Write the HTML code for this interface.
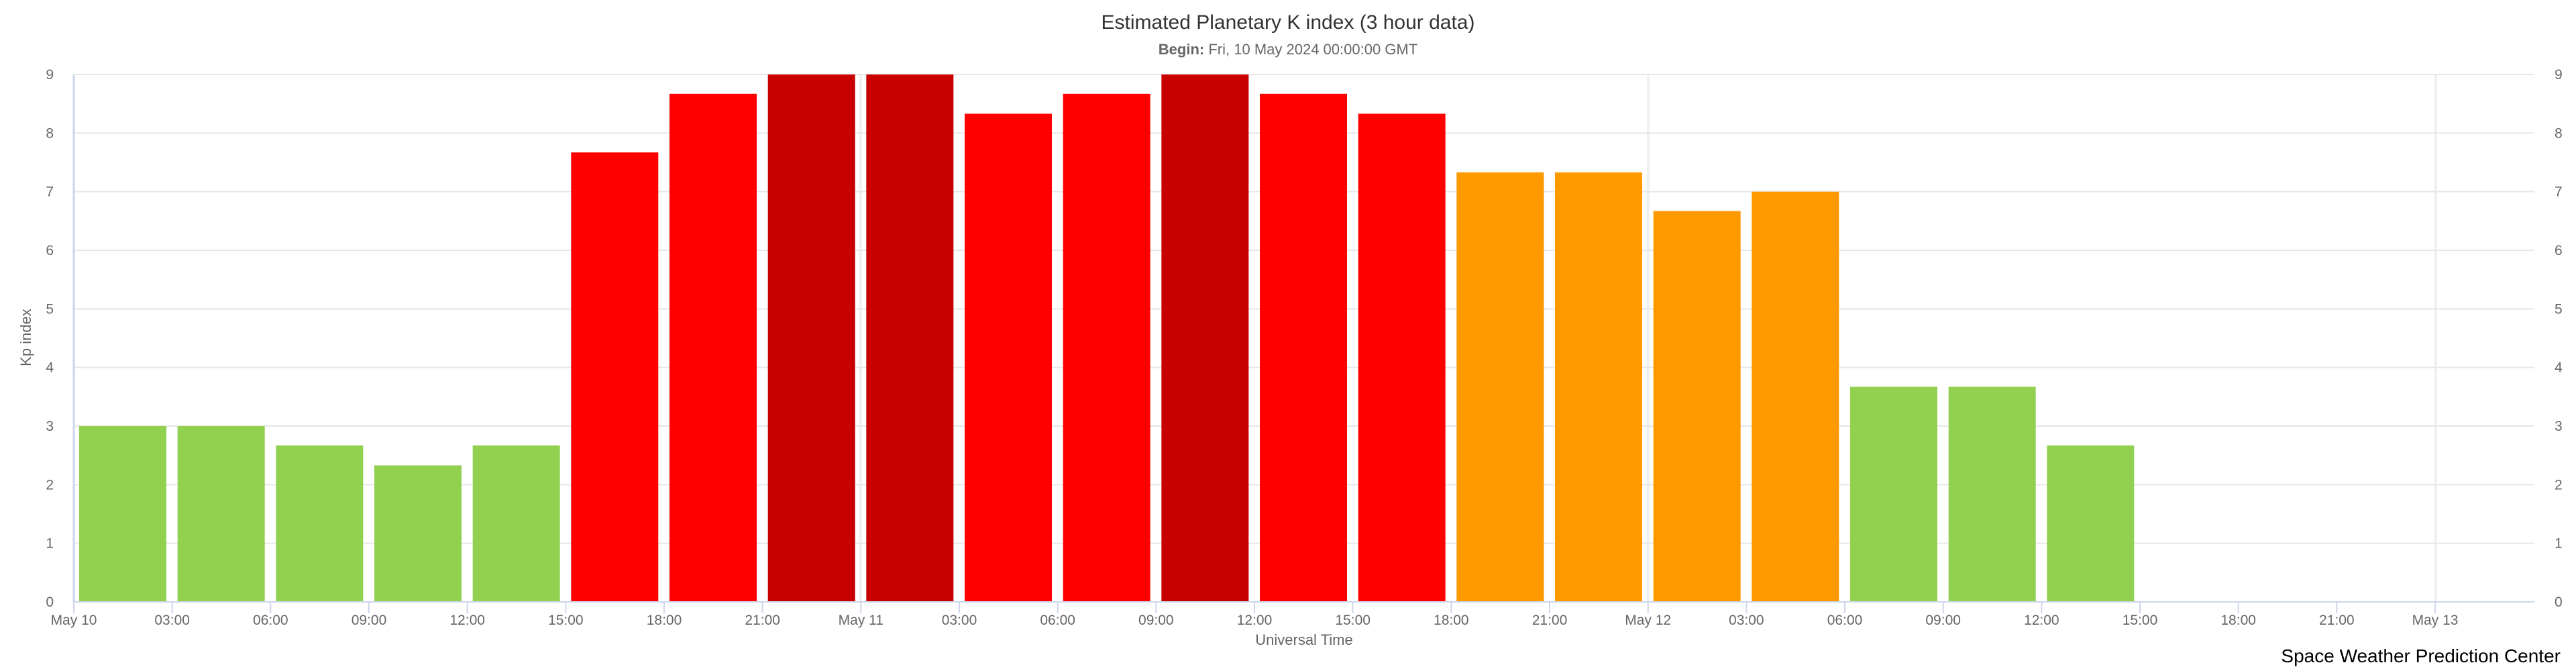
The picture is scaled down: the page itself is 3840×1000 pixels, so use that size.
<!DOCTYPE html>
<html><head><meta charset="utf-8"><style>
html,body{margin:0;padding:0;background:#fff;}
svg{display:block;font-family:"Liberation Sans",Arial,sans-serif;}
</style></head><body>
<svg width="3840" height="1000" viewBox="0 0 3840 1000" xmlns="http://www.w3.org/2000/svg">
<rect width="3840" height="1000" fill="#fff"/>
<text x="1920" y="43" text-anchor="middle" font-size="30" fill="#333">Estimated Planetary K index (3 hour data)</text>
<text x="1920" y="81" text-anchor="middle" font-size="22" fill="#666"><tspan font-weight="bold">Begin:</tspan> Fri, 10 May 2024 00:00:00 GMT</text>
<g stroke="#f0f0f0" stroke-width="4">
<line x1="1283" y1="111" x2="1283" y2="897"/>
<line x1="2457" y1="111" x2="2457" y2="897"/>
<line x1="3631" y1="111" x2="3631" y2="897"/>
</g>
<g stroke="#e6e6e6" stroke-width="2">
<line x1="110" y1="809.67" x2="3778" y2="809.67"/>
<line x1="110" y1="722.33" x2="3778" y2="722.33"/>
<line x1="110" y1="635" x2="3778" y2="635"/>
<line x1="110" y1="547.67" x2="3778" y2="547.67"/>
<line x1="110" y1="460.33" x2="3778" y2="460.33"/>
<line x1="110" y1="373" x2="3778" y2="373"/>
<line x1="110" y1="285.67" x2="3778" y2="285.67"/>
<line x1="110" y1="198.33" x2="3778" y2="198.33"/>
<line x1="110" y1="111" x2="3778" y2="111"/>
</g>
<g>
<rect x="118" y="635" width="130" height="262" fill="#92D050"/>
<rect x="264.67" y="635" width="130" height="262" fill="#92D050"/>
<rect x="411.33" y="663.8" width="130" height="233.2" fill="#92D050"/>
<rect x="558" y="693.5" width="130" height="203.5" fill="#92D050"/>
<rect x="704.67" y="663.8" width="130" height="233.2" fill="#92D050"/>
<rect x="851.33" y="227.2" width="130" height="669.8" fill="#FF0000"/>
<rect x="998" y="139.8" width="130" height="757.2" fill="#FF0000"/>
<rect x="1144.67" y="111" width="130" height="786" fill="#C80000"/>
<rect x="1291.33" y="111" width="130" height="786" fill="#C80000"/>
<rect x="1438" y="169.5" width="130" height="727.5" fill="#FF0000"/>
<rect x="1584.67" y="139.8" width="130" height="757.2" fill="#FF0000"/>
<rect x="1731.33" y="111" width="130" height="786" fill="#C80000"/>
<rect x="1878" y="139.8" width="130" height="757.2" fill="#FF0000"/>
<rect x="2024.67" y="169.5" width="130" height="727.5" fill="#FF0000"/>
<rect x="2171.33" y="256.9" width="130" height="640.1" fill="#FF9900"/>
<rect x="2318" y="256.9" width="130" height="640.1" fill="#FF9900"/>
<rect x="2464.67" y="314.5" width="130" height="582.5" fill="#FF9900"/>
<rect x="2611.33" y="285.7" width="130" height="611.3" fill="#FF9900"/>
<rect x="2758" y="576.5" width="130" height="320.5" fill="#92D050"/>
<rect x="2904.67" y="576.5" width="130" height="320.5" fill="#92D050"/>
<rect x="3051.33" y="663.8" width="130" height="233.2" fill="#92D050"/>
</g>
<g font-size="21" fill="#666" text-anchor="end">
<text x="80" y="904">0</text><text x="80" y="816.7">1</text><text x="80" y="729.3">2</text><text x="80" y="642">3</text><text x="80" y="554.7">4</text><text x="80" y="467.3">5</text><text x="80" y="380">6</text><text x="80" y="292.7">7</text><text x="80" y="205.3">8</text><text x="80" y="118">9</text>
</g>
<g font-size="21" fill="#666">
<text x="3808" y="904">0</text><text x="3808" y="816.7">1</text><text x="3808" y="729.3">2</text><text x="3808" y="642">3</text><text x="3808" y="554.7">4</text><text x="3808" y="467.3">5</text><text x="3808" y="380">6</text><text x="3808" y="292.7">7</text><text x="3808" y="205.3">8</text><text x="3808" y="118">9</text>
</g>
<line x1="110" y1="111" x2="110" y2="897" stroke="#ccd6eb" stroke-width="3"/>
<line x1="109" y1="897" x2="3778" y2="897" stroke="#ccd6eb" stroke-width="2"/>
<g stroke="#ccd6eb" stroke-width="2">
<line x1="110" y1="897" x2="110" y2="914"/><line x1="256.67" y1="897" x2="256.67" y2="914"/><line x1="403.33" y1="897" x2="403.33" y2="914"/><line x1="550" y1="897" x2="550" y2="914"/><line x1="696.67" y1="897" x2="696.67" y2="914"/><line x1="843.33" y1="897" x2="843.33" y2="914"/><line x1="990" y1="897" x2="990" y2="914"/><line x1="1136.67" y1="897" x2="1136.67" y2="914"/><line x1="1283.33" y1="897" x2="1283.33" y2="914"/><line x1="1430" y1="897" x2="1430" y2="914"/><line x1="1576.67" y1="897" x2="1576.67" y2="914"/><line x1="1723.33" y1="897" x2="1723.33" y2="914"/><line x1="1870" y1="897" x2="1870" y2="914"/><line x1="2016.67" y1="897" x2="2016.67" y2="914"/><line x1="2163.33" y1="897" x2="2163.33" y2="914"/><line x1="2310" y1="897" x2="2310" y2="914"/><line x1="2456.67" y1="897" x2="2456.67" y2="914"/><line x1="2603.33" y1="897" x2="2603.33" y2="914"/><line x1="2750" y1="897" x2="2750" y2="914"/><line x1="2896.67" y1="897" x2="2896.67" y2="914"/><line x1="3043.33" y1="897" x2="3043.33" y2="914"/><line x1="3190" y1="897" x2="3190" y2="914"/><line x1="3336.67" y1="897" x2="3336.67" y2="914"/><line x1="3483.33" y1="897" x2="3483.33" y2="914"/><line x1="3630" y1="897" x2="3630" y2="914"/>
</g>
<g font-size="21" fill="#666" text-anchor="middle">
<text x="110" y="931">May 10</text><text x="256.67" y="931">03:00</text><text x="403.33" y="931">06:00</text><text x="550" y="931">09:00</text><text x="696.67" y="931">12:00</text><text x="843.33" y="931">15:00</text><text x="990" y="931">18:00</text><text x="1136.67" y="931">21:00</text><text x="1283.33" y="931">May 11</text><text x="1430" y="931">03:00</text><text x="1576.67" y="931">06:00</text><text x="1723.33" y="931">09:00</text><text x="1870" y="931">12:00</text><text x="2016.67" y="931">15:00</text><text x="2163.33" y="931">18:00</text><text x="2310" y="931">21:00</text><text x="2456.67" y="931">May 12</text><text x="2603.33" y="931">03:00</text><text x="2750" y="931">06:00</text><text x="2896.67" y="931">09:00</text><text x="3043.33" y="931">12:00</text><text x="3190" y="931">15:00</text><text x="3336.67" y="931">18:00</text><text x="3483.33" y="931">21:00</text><text x="3630" y="931">May 13</text>
</g>
<text transform="translate(46,503) rotate(-90)" text-anchor="middle" font-size="22" fill="#666">Kp index</text>
<text x="1944" y="961" text-anchor="middle" font-size="22" fill="#666">Universal Time</text>
<text x="3817" y="987" text-anchor="end" font-size="28" fill="#000">Space Weather Prediction Center</text>
</svg>
</body></html>
